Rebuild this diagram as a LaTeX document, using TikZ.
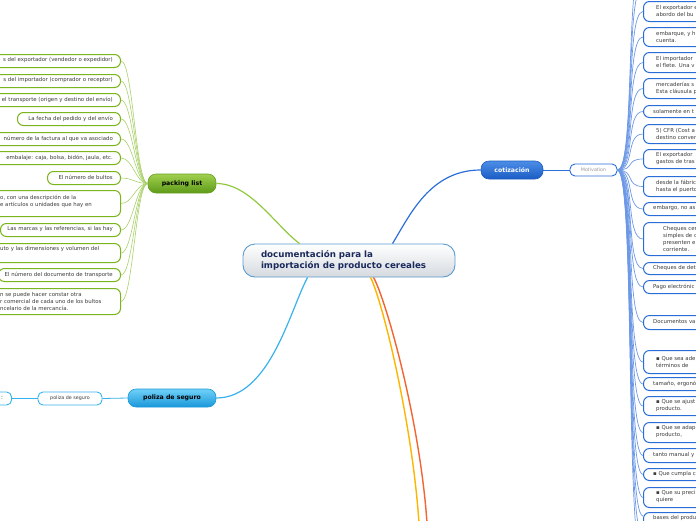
\documentclass[tikz,border=0pt]{standalone}
\usepackage{fontspec}
\setmainfont{DejaVu Sans}
\definecolor{lgreen}{HTML}{7AB51D}
\definecolor{lgreenl}{HTML}{A9D06A}
\definecolor{rblue}{HTML}{2A6DD9}
\definecolor{rbluel}{HTML}{6C98E6}
\definecolor{txtgray}{HTML}{3C3C3C}
\definecolor{cborder}{HTML}{5A9BD0}
\definecolor{cgray}{HTML}{D5DADF}
\definecolor{navy}{HTML}{1B2A5C}
\definecolor{plt}{HTML}{A0D050}
\definecolor{plb}{HTML}{5E9A18}
\definecolor{plborder}{HTML}{6A9E22}
\definecolor{cott}{HTML}{4C8EE6}
\definecolor{cotb}{HTML}{1B5CC4}
\definecolor{brgreen}{HTML}{92C83E}
\definecolor{brblue}{HTML}{2C6FD8}
\definecolor{brcyan}{HTML}{38B2EC}
\definecolor{polt}{HTML}{6FD0F8}
\definecolor{polb}{HTML}{1A98DA}
\definecolor{oyellow}{HTML}{FFB400}
\definecolor{ored}{HTML}{F26430}
\newcommand\ritem[5]{%
  \node[rbox, minimum height=#3pt, anchor=north west] (#1) at (643,#2) {};
  \node[itemtext, anchor=west] (#1t) at (#4,#2+#3/2) {#5};
  \draw[rcon] (mot.east) .. controls +(18,0) and +(-18,0) .. (#1.west);}
\newcommand\lbx[4]{%
  \node[lbox, minimum height=#3pt, minimum width=#4pt, anchor=north east] (#1) at (121,#2) {};
  \draw[lcon] (pl.west) .. controls +(-12,0) and +(12,0) .. (#1.east);}
\begin{document}
\begin{tikzpicture}[x=1pt,y=-1pt,
  lbox/.style={draw=lgreen, line width=1pt, fill=white, rounded corners=6pt, inner sep=0pt},
  rbox/.style={draw=rblue, line width=1pt, fill=white, rounded corners=6pt, inner sep=0pt, minimum width=80pt},
  itemtext/.style={font=\fontsize{5.4}{7}\selectfont, text=txtgray, inner sep=0pt, align=left},
  lcon/.style={draw=lgreenl, line width=0.6pt},
  rcon/.style={draw=rbluel, line width=0.7pt},
  mainbox/.style={inner sep=0pt, font=\fontsize{6.2}{7}\selectfont\bfseries},
]
\useasboundingbox (0,0) rectangle (696,520);

% central node
\node[draw=cborder, line width=0.9pt, rounded corners=12pt, top color=white, bottom color=cgray,
  minimum width=212pt, minimum height=33pt, text width=176pt, inner xsep=18pt, inner ysep=0pt,
  align=left, font=\fontsize{8.7}{11}\selectfont\bfseries, text=navy] (c) at (349,260.5)
  {documentación para la\\importación de producto cereales};

% main branch nodes
\node[mainbox, draw=plborder, line width=0.6pt, rounded corners=8pt, top color=plt, bottom color=plb,
  minimum width=68pt, minimum height=19pt] (pl) at (182,183.5) {packing list};
\node[mainbox, draw=cotb, line width=0.6pt, rounded corners=8pt, top color=cott, bottom color=cotb,
  minimum width=62pt, minimum height=18pt, text=white] (cot) at (512,170) {cotización};
\node[draw=rblue, line width=0.9pt, fill=white, rounded corners=5pt, minimum width=47pt, minimum height=12pt,
  inner sep=0pt, font=\fontsize{4.8}{5}\selectfont, text=gray!80] (mot) at (593.5,170) {Motivation};
\node[mainbox, draw=polb, line width=0.6pt, rounded corners=8pt, top color=polt, bottom color=polb,
  minimum width=88pt, minimum height=18pt] (pol) at (172,398) {poliza de seguro};
\node[draw=brcyan, line width=0.9pt, fill=white, rounded corners=5pt, minimum width=64pt, minimum height=13pt,
  inner sep=0pt, font=\fontsize{4.8}{5}\selectfont, text=txtgray] (ps) at (70,398.5) {poliza de seguro};
\node[draw=brcyan, line width=0.9pt, fill=white, rounded corners=5pt, minimum width=40pt, minimum height=13pt,
  inner sep=0pt, anchor=east] (pz) at (12,398.5) {};
\node[itemtext, anchor=west] (pzt) at (1,398.5) {:};

% main branches
\draw[line width=1.2pt, draw=brgreen] ([xshift=57pt]c.north west) .. controls (275,225) and (250,183.5) .. (pl.east);
\draw[line width=1.2pt, draw=brblue] ([xshift=150pt]c.north west) .. controls (410,215) and (430,170) .. (cot.west);
\draw[line width=0.9pt, draw=brblue] (cot.east) -- (mot.west);
\draw[line width=1.2pt, draw=brcyan] ([xshift=65pt]c.south west) .. controls (290,310) and (270,398) .. (pol.east);
\draw[line width=0.8pt, draw=brcyan] (pol.west) -- (ps.east);
\draw[line width=0.8pt, draw=brcyan] (ps.west) -- (pz.east);
\coordinate (oy) at (419,523);
\coordinate (orr) at (427,523);
\draw[line width=1.4pt, draw=oyellow] ([xshift=128pt]c.south west) .. controls (382,300) and (412,420) .. (oy);
\draw[line width=1.4pt, draw=ored] ([xshift=131pt]c.south west) .. controls (386,300) and (420,420) .. (orr);

% packing list items
\lbx{l1}{54}{13}{141}
\node[itemtext, anchor=east] (l1t) at (113,60.5) {s del exportador (vendedor o expedidor)};
\lbx{l2}{74}{13}{141}
\node[itemtext, anchor=east] (l2t) at (113,80.5) {s del importador (comprador o receptor)};
\lbx{l3}{93}{13}{141}
\node[itemtext, anchor=east] (l3t) at (113,99.5) {el transporte (origen y destino del envío)};
\lbx{l4}{112}{13}{103}
\node[itemtext, anchor=east] (l4t) at (113,118.5) {La fecha del pedido y del envío};
\lbx{l5}{132}{13}{141}
\node[itemtext, anchor=east] (l5t) at (113,138.5) {número de la factura al que va asociado};
\lbx{l6}{151}{13}{141}
\node[itemtext, anchor=east] (l6t) at (113,157.5) {embalaje: caja, bolsa, bidón, jaula, etc.};
\lbx{l7}{171}{13}{73}
\node[itemtext, anchor=east] (l7t) at (113,177.5) {El número de bultos};
\lbx{l8}{190}{26}{141}
\node[itemtext, anchor=west] (l8t) at (0,201.5) {o, con una descripción de la\\e artículos o unidades que hay en};
\lbx{l9}{223}{13}{120}
\node[itemtext, anchor=east] (l9t) at (113,229.5) {Las marcas y las referencias, si las hay};
\lbx{l10}{243}{19}{141}
\node[itemtext, anchor=west] (l10t) at (0,249.5) {uto y las dimensiones y volumen del};
\lbx{l11}{268}{13}{122}
\node[itemtext, anchor=east] (l11t) at (113,274.5) {El número del documento de transporte};
\lbx{l12}{288}{26}{141}
\node[itemtext, anchor=west] (l12t) at (0,301) {n se puede hacer constar otra\\r comercial de cada uno de los bultos\\ncelario de la mercancía.};

% cotizacion items
\coordinate (ru1) at (643,-14);
\coordinate (ru2) at (643,-38);
\coordinate (rd1) at (643,536);
\coordinate (rd2) at (643,560);
\draw[rcon] (mot.east) .. controls +(18,0) and +(-18,0) .. (ru1);
\draw[rcon] (mot.east) .. controls +(18,0) and +(-18,0) .. (ru2);
\draw[rcon] (mot.east) .. controls +(18,0) and +(-18,0) .. (rd1);
\draw[rcon] (mot.east) .. controls +(18,0) and +(-18,0) .. (rd2);
\ritem{r1}{1}{20}{656}{El exportador e\\abordo del bu}
\ritem{r2}{27}{19}{656}{embarque, y h\\cuenta.}
\ritem{r3}{52}{20}{656}{El importador\\el flete. Una v}
\ritem{r4}{78}{20}{656}{mercaderías s\\Esta cláusula p}
\ritem{r5}{105}{12}{653}{solamente en t}
\ritem{r6}{124}{19}{656}{5) CFR (Cost a\\destino conver}
\ritem{r7}{149}{19}{656}{El exportador\\gastos de tras}
\ritem{r8}{176}{20}{656}{desde la fábric\\hasta el puerto}
\ritem{r9}{202}{13}{653}{embargo, no as}
\ritem{r10}{222}{33}{663}{Cheques cer\\simples de c\\presenten e\\corriente.}
\ritem{r11}{262}{12}{653}{Cheques de det}
\ritem{r12}{280}{13}{653}{Pago electrónic}
\ritem{r13}{315}{14}{653}{Documentos va}
\ritem{r14}{350}{23}{656}{▪ Que sea ade\\términos de}
\ritem{r15}{377}{13}{653}{tamaño, ergonó}
\ritem{r16}{396}{19}{656}{▪ Que se ajust\\producto.}
\ritem{r17}{422}{20}{656}{▪ Que se adap\\producto,}
\ritem{r18}{448}{14}{653}{tanto manual y}
\ritem{r19}{468}{12}{653}{▪ Que cumpla c}
\ritem{r20}{487}{20}{656}{▪ Que su preci\\quiere}
\node[rbox, minimum height=20pt, anchor=north west] (r21) at (643,512) {};
\node[itemtext, anchor=west] (r21t) at (653,518.5) {bases del produ};
\draw[rcon] (mot.east) .. controls +(18,0) and +(-18,0) .. ([yshift=-4pt]r21.north west);
\end{tikzpicture}
\end{document}
